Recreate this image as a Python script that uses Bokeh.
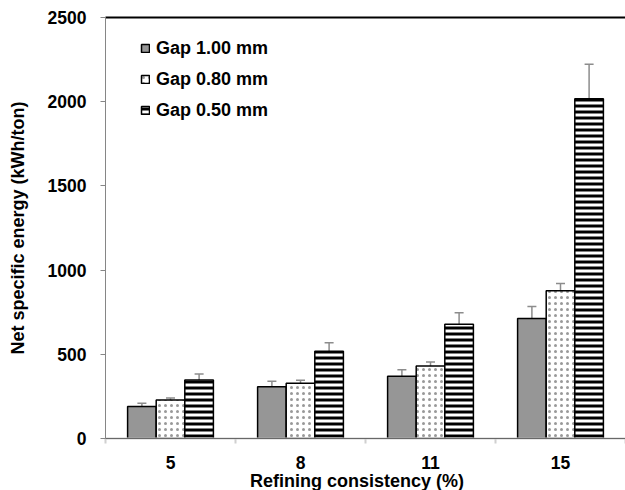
import numpy as np
from bokeh.plotting import figure
from bokeh.layouts import column
from bokeh.models import (ColumnDataSource, Range1d, FixedTicker, Whisker, TeeHead,
                          Span, Legend, LegendItem, LinearAxis, Div)
from bokeh.embed import file_html
from bokeh.resources import INLINE

categories = ["5", "8", "11", "15"]
series_names = ["Gap 1.00 mm", "Gap 0.80 mm", "Gap 0.50 mm"]
gap_100 = [190, 307, 370, 713]
gap_100_err = [20, 33, 38, 71]
gap_080 = [228, 328, 430, 877]
gap_080_err = [13, 18, 25, 43]
gap_050 = [348, 518, 678, 2017]
gap_050_err = [35, 50, 69, 205]
y_ticks = [0, 500, 1000, 1500, 2000, 2500]
x_title = "Refining consistency (%)"
y_title = "Net specific energy (kWh/ton)"

FONT = "Liberation Sans"

p = figure(width=625, height=473, output_backend="svg", toolbar_location=None,
           x_range=Range1d(0, len(categories)), y_range=Range1d(0, 2500),
           min_border_left=105, min_border_right=0, min_border_top=17, min_border_bottom=35)
p.outline_line_color = None
p.grid.visible = False
p.background_fill_color = "white"

centers = np.arange(len(categories)) + 0.5
offsets = [-0.22, 0.0, 0.22]
bw = 0.22

styles = [
    dict(fill_color="#969696"),
    dict(fill_color="white", hatch_pattern="dot", hatch_color="#999999", hatch_scale=6, hatch_weight=1.5),
    dict(fill_color="white", hatch_pattern="horizontal_line", hatch_color="black", hatch_scale=6, hatch_weight=3),
]
vals = [gap_100, gap_080, gap_050]
errs = [gap_100_err, gap_080_err, gap_050_err]

items = []
for k in range(3):
    v = np.array(vals[k], dtype=float)
    e = np.array(errs[k], dtype=float)
    src = ColumnDataSource(dict(x=centers + offsets[k], top=v, lo=v - e, hi=v + e))
    r = p.vbar(x="x", top="top", bottom=0, width=bw, source=src,
               line_color="black", line_width=1.5, **styles[k])
    items.append(LegendItem(label=series_names[k], renderers=[r]))
    w = Whisker(source=src, base="x", upper="hi", lower="lo",
                line_color="#8c8c8c", line_width=1.5,
                upper_head=TeeHead(size=9, line_color="#8c8c8c", line_width=1.5),
                lower_head=TeeHead(size=9, line_color="#8c8c8c", line_width=1.5))
    p.add_layout(w)

p.add_layout(Span(location=0, dimension="width", line_color="black", line_width=1))

# x axis (bottom)
xa = p.below[0]
xa.ticker = FixedTicker(ticks=list(centers), minor_ticks=list(range(len(categories) + 1)))
xa.major_label_overrides = {float(c): lab for c, lab in zip(centers, categories)}
xa.major_tick_line_color = None
xa.major_tick_out = 0
xa.major_tick_in = 0
xa.minor_tick_line_color = "#d0d0d0"
xa.minor_tick_line_width = 2
xa.minor_tick_out = 5
xa.minor_tick_in = 0
xa.axis_line_color = "#d0d0d0"
xa.axis_line_width = 2
xa.major_label_standoff = 12

# top border line as an axis without ticks or labels
top_axis = LinearAxis(ticker=FixedTicker(ticks=[], minor_ticks=[]), axis_line_color="black",
                      axis_line_width=2, major_tick_out=0, major_tick_in=0,
                      minor_tick_out=0, minor_tick_in=0, major_label_standoff=0)
p.add_layout(top_axis, "above")

# y axis
ya = p.left[0]
ya.ticker = FixedTicker(ticks=y_ticks)
ya.minor_tick_line_color = None
ya.major_tick_line_color = "#868686"
ya.major_tick_out = 5
ya.major_tick_in = 0
ya.axis_line_color = "#868686"
ya.major_label_standoff = 14
ya.axis_label = y_title
ya.axis_label_standoff = 17

for ax in (xa, ya):
    ax.major_label_text_font = FONT
    ax.major_label_text_font_style = "bold"
    ax.major_label_text_font_size = "17.5px"
    ax.major_label_text_color = "black"
    ax.axis_label_text_font = FONT
    ax.axis_label_text_font_style = "bold"
    ax.axis_label_text_font_size = "18px"
    ax.axis_label_text_color = "black"

legend = Legend(items=items, location=(35, 317), orientation="vertical",
                glyph_width=10, glyph_height=10, label_standoff=6, spacing=9,
                padding=0, margin=0, border_line_color=None, background_fill_alpha=0,
                label_text_font=FONT, label_text_font_style="bold",
                label_text_font_size="18px", label_text_color="black", label_height=22)
p.add_layout(legend)

xlabel = Div(text=('<div style="width:520px; margin-left:97px; text-align:center;'
                   ' font-family:\'Liberation Sans\'; font-weight:bold; font-size:18px;'
                   ' line-height:17px; color:black; white-space:nowrap;">' + x_title + '</div>'),
             width=625, height=17, margin=(0, 0, 0, 0))

layout = column(p, xlabel, spacing=0)

open("out.html", "w").write(file_html(layout, INLINE))
